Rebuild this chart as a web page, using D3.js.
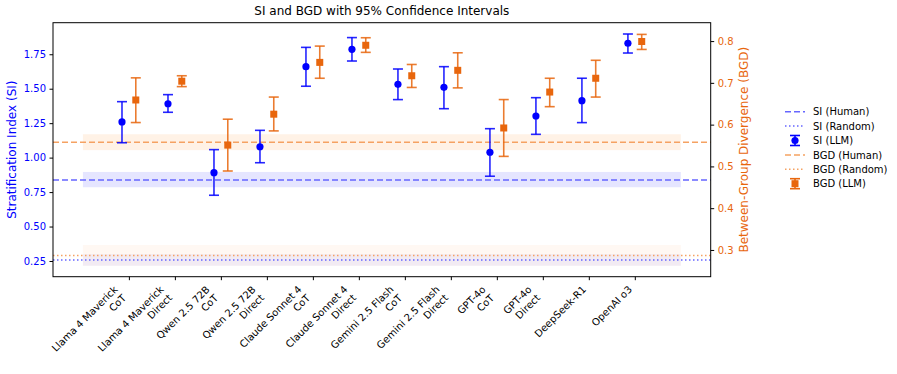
<!DOCTYPE html>
<html>
<head>
<meta charset="utf-8">
<script src="https://cdn.jsdelivr.net/npm/d3@7"></script>
<style>
  body { margin: 0; background: #fff; }
  svg { font-family: "DejaVu Sans", sans-serif; }
</style>
</head>
<body>
<div id="chart"></div>
<script>
// model labels (two lines where the source had a line break)
var models = ["Llama 4 Maverick\nCoT", "Llama 4 Maverick\nDirect", "Qwen 2.5 72B\nCoT", "Qwen 2.5 72B\nDirect",
              "Claude Sonnet 4\nCoT", "Claude Sonnet 4\nDirect", "Gemini 2.5 Flash\nCoT", "Gemini 2.5 Flash\nDirect",
              "GPT-4o\nCoT", "GPT-4o\nDirect", "DeepSeek-R1", "OpenAI o3"];

var siMean = [1.259, 1.391, 0.891, 1.079, 1.660, 1.786, 1.532, 1.510, 1.039, 1.302, 1.413, 1.830];
var siLow  = [1.108, 1.329, 0.727, 0.963, 1.518, 1.701, 1.421, 1.355, 0.865, 1.169, 1.254, 1.759];
var siHigh = [1.406, 1.457, 1.058, 1.198, 1.800, 1.871, 1.643, 1.660, 1.210, 1.435, 1.576, 1.897];

var bgdMean = [0.659, 0.704, 0.551, 0.625, 0.749, 0.790, 0.717, 0.730, 0.592, 0.678, 0.711, 0.799];
var bgdLow  = [0.605, 0.691, 0.489, 0.585, 0.711, 0.773, 0.689, 0.688, 0.524, 0.643, 0.666, 0.780];
var bgdHigh = [0.712, 0.717, 0.613, 0.666, 0.788, 0.808, 0.744, 0.772, 0.660, 0.711, 0.754, 0.816];

// reference baselines: [value, band low, band high]
var siHuman = [0.838, 0.785, 0.896];
var siRandom = [0.257, 0.215, 0.300];
var bgdHuman = [0.558, 0.539, 0.577];
var bgdRandom = [0.287, 0.262, 0.312];

var siTicks = [0.25, 0.50, 0.75, 1.00, 1.25, 1.50, 1.75];
var bgdTicks = [0.3, 0.4, 0.5, 0.6, 0.7, 0.8];

(function () {
    var W = 897, H = 374;
    var margin = { top: 22.7, left: 53, right: 186.3, bottom: 97.3 };
    var x0 = margin.left, x1 = W - margin.right, y0 = margin.top, y1 = H - margin.bottom;

    var BLUE = "#0000ff", ORANGE = "#e8660d";

    var svg = d3.select("#chart").append("svg")
        .attr("width", W).attr("height", H);

    var x = d3.scaleLinear().domain([-1.65, 12.65]).range([x0, x1]);
    var yL = d3.scaleLinear().domain([0.136, 1.979]).range([y1, y0]);
    var yR = d3.scaleLinear().domain([0.236, 0.844]).range([y1, y0]);

    var plot = svg.append("g");

    // shaded bands
    function band(g, y, r, color, op) {
        g.append("rect")
            .attr("x", x(-1)).attr("width", x(12) - x(-1))
            .attr("y", y(r[2])).attr("height", y(r[1]) - y(r[2]))
            .attr("fill", color).attr("opacity", op);
    }
    band(plot, yL, siHuman, BLUE, 0.1);
    band(plot, yL, siRandom, BLUE, 0.05);
    band(plot, yR, bgdHuman, "#ff7f0e", 0.1);
    band(plot, yR, bgdRandom, "#ff7f0e", 0.05);

    // reference lines across full width
    function hline(y, v, color, dash) {
        plot.append("line")
            .attr("x1", x0).attr("x2", x1)
            .attr("y1", y(v)).attr("y2", y(v))
            .attr("stroke", color).attr("stroke-width", 1.5)
            .attr("stroke-dasharray", dash);
    }
    hline(yR, bgdHuman[0], "#f5a262", "6,3");
    hline(yR, bgdRandom[0], "#f5a262", "1.5,2.5");
    hline(yL, siHuman[0], "#6666ff", "6,3");
    hline(yL, siRandom[0], "#6666ff", "1.5,2.5");

    // error bars
    function errbars(cls, y, mean, lo, hi, color, off) {
        var g = plot.append("g").attr("class", cls);
        var items = g.selectAll("g").data(mean).enter().append("g");
        items.append("line")
            .attr("x1", function(d, i) { return x(i + off); })
            .attr("x2", function(d, i) { return x(i + off); })
            .attr("y1", function(d, i) { return y(lo[i]); })
            .attr("y2", function(d, i) { return y(hi[i]); })
            .attr("stroke", color).attr("stroke-width", 1.6).attr("opacity", 0.85);
        [lo, hi].forEach(function(arr) {
            items.append("line")
                .attr("x1", function(d, i) { return x(i + off) - 5; })
                .attr("x2", function(d, i) { return x(i + off) + 5; })
                .attr("y1", function(d, i) { return y(arr[i]); })
                .attr("y2", function(d, i) { return y(arr[i]); })
                .attr("stroke", color).attr("stroke-width", 1.6).attr("opacity", 0.85);
        });
        return items;
    }
    var siItems = errbars("si", yL, siMean, siLow, siHigh, BLUE, -0.15);
    siItems.append("circle")
        .attr("cx", function(d, i) { return x(i - 0.15); })
        .attr("cy", function(d) { return yL(d); })
        .attr("r", 3.6).attr("fill", BLUE);

    var bgdItems = errbars("bgd", yR, bgdMean, bgdLow, bgdHigh, ORANGE, 0.15);
    bgdItems.append("rect")
        .attr("x", function(d, i) { return x(i + 0.15) - 3.5; })
        .attr("y", function(d) { return yR(d) - 3.5; })
        .attr("width", 7).attr("height", 7).attr("fill", ORANGE);

    // frame
    svg.append("rect")
        .attr("x", x0).attr("y", y0).attr("width", x1 - x0).attr("height", y1 - y0)
        .attr("fill", "none").attr("stroke", "#000").attr("stroke-width", 1);

    // left axis
    var axL = svg.append("g")
        .attr("transform", "translate(" + x0 + ",0)")
        .call(d3.axisLeft(yL).tickValues(siTicks).tickFormat(d3.format(".2f")).tickSize(3.5).tickPadding(3.5));
    axL.select(".domain").remove();
    axL.selectAll("text").attr("fill", BLUE).style("font-size", "10px").style("font-family", "DejaVu Sans");
    axL.selectAll("line").attr("stroke", "#000");

    // right axis
    var axR = svg.append("g")
        .attr("transform", "translate(" + x1 + ",0)")
        .call(d3.axisRight(yR).tickValues(bgdTicks).tickFormat(d3.format(".1f")).tickSize(3.5).tickPadding(3.5));
    axR.select(".domain").remove();
    axR.selectAll("text").attr("fill", ORANGE).style("font-size", "10px").style("font-family", "DejaVu Sans");
    axR.selectAll("line").attr("stroke", "#000");

    // bottom axis ticks, labels drawn separately
    var axB = svg.append("g")
        .attr("transform", "translate(0," + y1 + ")")
        .call(d3.axisBottom(x).tickValues(d3.range(models.length)).tickFormat("").tickSize(3.5));
    axB.select(".domain").remove();
    axB.selectAll("line").attr("stroke", "#000");

    var fs = 10, lineH = 12;
    models.forEach(function(m, i) {
        var lines = m.split("\n");
        var n = lines.length;
        var blockH = n * lineH;
        var g = svg.append("g")
            .attr("transform", "translate(" + x(i) + "," + (y1 + 7 + blockH * 0.7071) + ") rotate(-45)");
        lines.forEach(function(t, k) {
            g.append("text")
                .attr("x", 0)
                .attr("y", -(n - 1 - k) * lineH - 3)
                .attr("text-anchor", "end")
                .style("font-size", fs + "px")
                .text(t);
        });
    });

    // axis titles
    svg.append("text")
        .attr("transform", "translate(16," + ((y0 + y1) / 2) + ") rotate(-90)")
        .attr("text-anchor", "middle")
        .attr("fill", BLUE).style("font-size", "12px")
        .text("Stratification Index (SI)");
    svg.append("text")
        .attr("transform", "translate(748," + ((y0 + y1) / 2) + ") rotate(-90)")
        .attr("text-anchor", "middle")
        .attr("fill", ORANGE).style("font-size", "12px")
        .text("Between-Group Divergence (BGD)");

    svg.append("text")
        .attr("x", (x0 + x1) / 2).attr("y", 15)
        .attr("text-anchor", "middle").style("font-size", "12px")
        .text("SI and BGD with 95% Confidence Intervals");

    // legend
    var legend = [
        { label: "SI (Human)", kind: "line", color: "#6666ff", dash: "6,3" },
        { label: "SI (Random)", kind: "line", color: "#6666ff", dash: "1.5,2.5" },
        { label: "SI (LLM)", kind: "circle", color: BLUE },
        { label: "BGD (Human)", kind: "line", color: "#f5a262", dash: "6,3" },
        { label: "BGD (Random)", kind: "line", color: "#f5a262", dash: "1.5,2.5" },
        { label: "BGD (LLM)", kind: "square", color: ORANGE }
    ];
    var lg = svg.append("g").attr("transform", "translate(785,111.7)");
    legend.forEach(function(d, i) {
        var g = lg.append("g").attr("transform", "translate(0," + (i * 14.4) + ")");
        if (d.kind === "line") {
            g.append("line").attr("x1", 0).attr("x2", 20).attr("y1", 0).attr("y2", 0)
                .attr("stroke", d.color).attr("stroke-width", 1.5).attr("stroke-dasharray", d.dash);
        } else {
            g.append("line").attr("x1", 10).attr("x2", 10).attr("y1", -5).attr("y2", 5)
                .attr("stroke", d.color).attr("stroke-width", 1.6);
            g.append("line").attr("x1", 5).attr("x2", 15).attr("y1", -5).attr("y2", -5)
                .attr("stroke", d.color).attr("stroke-width", 1.6);
            g.append("line").attr("x1", 5).attr("x2", 15).attr("y1", 5).attr("y2", 5)
                .attr("stroke", d.color).attr("stroke-width", 1.6);
            if (d.kind === "circle") {
                g.append("circle").attr("cx", 10).attr("cy", 0).attr("r", 3.6).attr("fill", d.color);
            } else {
                g.append("rect").attr("x", 6.5).attr("y", -3.5).attr("width", 7).attr("height", 7).attr("fill", d.color);
            }
        }
        g.append("text").attr("x", 28).attr("y", 3.6).style("font-size", "10px").text(d.label);
    });
})();
</script>
</body>
</html>
